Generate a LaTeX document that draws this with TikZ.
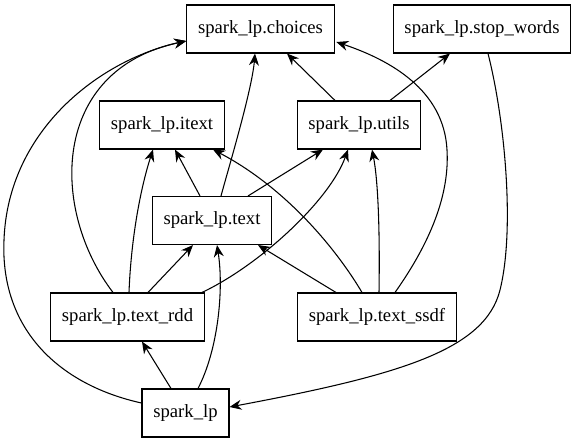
\documentclass[tikz,border=0pt]{standalone}
\usepackage{fontspec}
\setmainfont{Liberation Serif}
\usetikzlibrary{arrows.meta,calc}

\tikzset{
  modbox/.style={draw, rectangle, minimum height=36pt, inner xsep=8.5pt, line width=0.8pt,
    font=\fontsize{14}{16}\selectfont},
  dep/.style={line width=0.8pt, -{Stealth[length=9pt,width=7.5pt,inset=3pt]}}
}

\begin{document}
\begin{tikzpicture}[x=0.75pt,y=0.75pt,yscale=-1,xscale=1]
\useasboundingbox (0,0) rectangle (578,443);

% Text Node
\node [modbox] (choices) at (260.5,29) {spark\_lp.choices};
% Text Node
\node [modbox] (stopwords) at (482,29) {spark\_lp.stop\_words};
% Text Node
\node [modbox] (itext) at (162,125) {spark\_lp.itext};
% Text Node
\node [modbox] (utils) at (359,125) {spark\_lp.utils};
% Text Node
\node [modbox] (text) at (212,220.5) {spark\_lp.text};
% Text Node
\node [modbox] (textrdd) at (127.5,317) {spark\_lp.text\_rdd};
% Text Node
\node [modbox] (textssdf) at (377,317) {spark\_lp.text\_ssdf};
% Text Node
\node [modbox] (sparklp) at (185.5,413) {spark\_lp};

%Curve Lines text -> choices
\draw [dep] ($(text.north)+(9,0)$) .. controls (228,170) and (252,90) .. ($(choices.south)+(-5.5,0)$);
%Straight Lines text -> itext
\draw [dep] ($(text.north)+(-12,0)$) -- ($(itext.south)+(13,0)$);
%Straight Lines text -> utils
\draw [dep] ($(text.north)+(36,0)$) -- ($(utils.south)+(-36,0)$);
%Straight Lines utils -> choices
\draw [dep] ($(utils.north)+(-24,0)$) -- ($(choices.south)+(26.5,0)$);
%Straight Lines utils -> stop_words
\draw [dep] ($(utils.north)+(31,0)$) -- ($(stopwords.south)+(-32,0)$);

%Curve Lines text_rdd -> itext
\draw [dep] ($(textrdd.north)+(1.5,0)$) .. controls (131,240) and (140,190) .. ($(itext.south)+(-9,0)$);
%Curve Lines text_rdd -> choices
\draw [dep] ($(textrdd.north)+(-14.5,0)$) .. controls (50,210) and (50,70) .. ($(choices.west)+(0,12)$);
%Straight Lines text_rdd -> text
\draw [dep] ($(textrdd.north)+(20.5,0)$) -- ($(text.south)+(-19,0)$);
%Curve Lines text_rdd -> utils
\draw [dep] ($(textrdd.north east)+(-3,0)$) .. controls (260,265) and (330,200) .. ($(utils.south)+(-11,0)$);

%Straight Lines text_ssdf -> text
\draw [dep] ($(textssdf.north)+(-41,0)$) -- ($(text.south)+(46,0)$);
%Curve Lines text_ssdf -> itext
\draw [dep] ($(textssdf.north)+(-15,0)$) .. controls (340,255) and (290,190) .. ($(itext.south)+(51,0)$);
%Curve Lines text_ssdf -> utils
\draw [dep] ($(textssdf.north)+(2,0)$) .. controls (380,230) and (378,180) .. ($(utils.south)+(13,0)$);
%Curve Lines text_ssdf -> choices
\draw [dep] ($(textssdf.north)+(18,0)$) .. controls (425,250) and (450,200) .. (447,150)
  .. controls (444,90) and (390,60) .. ($(choices.east)+(1.5,13)$);

%Curve Lines stop_words -> spark_lp
\draw [dep] ($(stopwords.south)+(6,0)$) .. controls (505,120) and (515,230) .. (500,290)
  .. controls (485,350) and (400,375) .. ($(sparklp.east)+(0,-6)$);
%Straight Lines spark_lp -> text_rdd
\draw [dep] ($(sparklp.north)+(-14.5,0)$) -- ($(textrdd.south)+(14.5,0)$);
%Curve Lines spark_lp -> text
\draw [dep] ($(sparklp.north)+(12.5,0)$) .. controls (218,350) and (224,290) .. ($(text.south)+(5,0)$);
%Curve Lines spark_lp -> choices
\draw [dep] ($(sparklp.west)+(0,-10)$) .. controls (60,385) and (0,330) .. (4,240)
  .. controls (8,130) and (100,60) .. ($(choices.west)+(0,12)$);

\end{tikzpicture}
\end{document}
